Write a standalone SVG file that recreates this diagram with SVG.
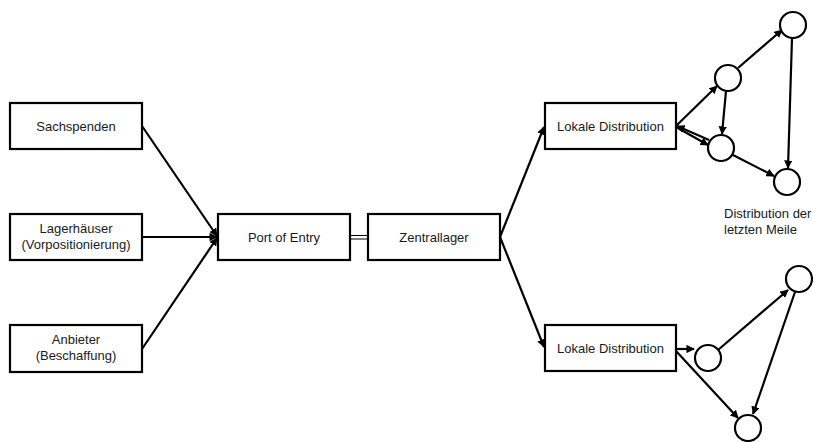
<svg xmlns="http://www.w3.org/2000/svg" width="813" height="442" viewBox="0 0 813 442">
  <style>
    .box { fill: #fff; stroke: #000; stroke-width: 2.2; }
    .node { fill: #fff; stroke: #000; stroke-width: 2.2; }
    .lbl { font-family: "Liberation Sans", Arial, sans-serif; font-size: 13px; fill: #1a1a1a; text-anchor: middle; }
    .note { font-family: "Liberation Sans", Arial, sans-serif; font-size: 13px; fill: #1a1a1a; }
    .edge { stroke: #000; stroke-width: 2.2; fill: none; marker-end: url(#arrow); }
  </style>
  <defs>
    <marker id="arrow" viewBox="0 0 10 10" refX="9" refY="5" markerWidth="3.8" markerHeight="3.8" orient="auto" markerUnits="strokeWidth">
      <path d="M0,0 L10,5 L0,10 z" fill="#000"/>
    </marker>
  </defs>

  <!-- connectors -->
  <g id="connectors">
    <line class="edge" x1="142" y1="126" x2="217" y2="236"/>
    <line class="edge" x1="142" y1="237" x2="217" y2="237"/>
    <line class="edge" x1="142" y1="349" x2="217" y2="238"/>
    <!-- double link Port of Entry - Zentrallager -->
    <line x1="350" y1="235.5" x2="368" y2="235.5" stroke="#000" stroke-width="1"/>
    <line x1="350" y1="239" x2="368" y2="239" stroke="#000" stroke-width="1"/>
    <line class="edge" x1="500" y1="237" x2="544" y2="127"/>
    <line class="edge" x1="500" y1="237" x2="544" y2="347"/>
    <!-- last-mile network, upper -->
    <line class="edge" x1="676" y1="126" x2="717" y2="86"/>
    <line class="edge" x1="676" y1="127" x2="708" y2="145"/>
    <line class="edge" x1="709" y1="140" x2="677" y2="126"/>
    <line class="edge" x1="738" y1="68" x2="782" y2="30"/>
    <line class="edge" x1="726" y1="91" x2="722" y2="134"/>
    <line class="edge" x1="733" y1="155" x2="774" y2="176"/>
    <line class="edge" x1="792" y1="38" x2="788" y2="168"/>
    <!-- last-mile network, lower -->
    <line class="edge" x1="676" y1="349" x2="694" y2="349"/>
    <line class="edge" x1="676" y1="351" x2="738" y2="418"/>
    <line class="edge" x1="718" y1="350" x2="788" y2="290"/>
    <line class="edge" x1="795" y1="292" x2="753" y2="414"/>
  </g>

  <g id="sachspenden">
    <rect class="box" x="10" y="103" width="132" height="46"/>
    <text class="lbl" x="76" y="131">Sachspenden</text>
  </g>
  <g id="lagerhaeuser">
    <rect class="box" x="10" y="214" width="132" height="46"/>
    <text class="lbl" x="76" y="233">Lagerhäuser</text>
    <text class="lbl" x="76" y="249">(Vorpositionierung)</text>
  </g>
  <g id="anbieter">
    <rect class="box" x="10" y="325" width="132" height="47"/>
    <text class="lbl" x="76" y="344">Anbieter</text>
    <text class="lbl" x="76" y="360">(Beschaffung)</text>
  </g>
  <g id="port-of-entry">
    <rect class="box" x="218" y="214" width="132" height="46"/>
    <text class="lbl" x="284" y="242">Port of Entry</text>
  </g>
  <g id="zentrallager">
    <rect class="box" x="368" y="214" width="132" height="46"/>
    <text class="lbl" x="434" y="242">Zentrallager</text>
  </g>
  <g id="lokale-distribution-1">
    <rect class="box" x="545" y="103" width="131" height="46"/>
    <text class="lbl" x="610.5" y="131">Lokale Distribution</text>
  </g>
  <g id="lokale-distribution-2">
    <rect class="box" x="545" y="325" width="131" height="46"/>
    <text class="lbl" x="610.5" y="353">Lokale Distribution</text>
  </g>

  <g id="node-a"><circle class="node" cx="793" cy="25" r="13"/></g>
  <g id="node-b"><circle class="node" cx="728" cy="78" r="13"/></g>
  <g id="node-c"><circle class="node" cx="721" cy="148" r="13"/></g>
  <g id="node-d"><circle class="node" cx="787" cy="182" r="13"/></g>
  <g id="node-e"><circle class="node" cx="799" cy="279" r="13"/></g>
  <g id="node-f"><circle class="node" cx="708" cy="358" r="13"/></g>
  <g id="node-g"><circle class="node" cx="748" cy="428" r="13"/></g>

  <g id="last-mile-label">
    <text class="note" x="724" y="218">Distribution der</text>
    <text class="note" x="724" y="234">letzten Meile</text>
  </g>
</svg>
